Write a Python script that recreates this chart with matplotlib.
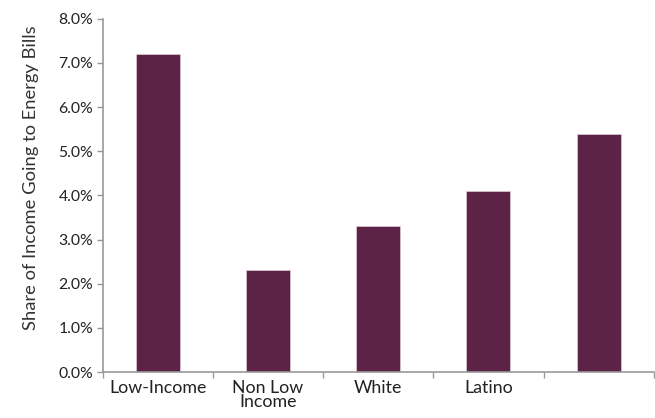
import matplotlib
matplotlib.use("Agg")
import matplotlib.pyplot as plt
from matplotlib.ticker import FixedLocator, NullFormatter

categories = ["Low-Income", "Non Low\nIncome", "White", "Latino", ""]
values = [7.2, 2.3, 3.3, 4.1, 5.4]
yticks = [0, 1, 2, 3, 4, 5, 6, 7, 8]
ytick_labels = ["0.0%", "1.0%", "2.0%", "3.0%", "4.0%", "5.0%", "6.0%", "7.0%", "8.0%"]
ylabel = "Share of Income Going to Energy Bills"

plt.rcParams['font.family'] = ['Lato', 'DejaVu Sans']

fig = plt.figure(figsize=(6.55, 4.18), dpi=100)
ax = fig.add_axes([0.157, 0.110, 0.841, 0.845])

x = list(range(len(categories)))
ax.bar(x, values, width=0.4, color="#5C2346", edgecolor="#E8DDE3", linewidth=0.4)

ax.set_xlim(-0.5, len(categories) - 0.5)
ax.set_ylim(0, 8)
ax.set_yticks(yticks)
ax.set_yticklabels(ytick_labels, fontsize=11.3, color="#222222")

ax.set_xticks(x)
ax.set_xticklabels(categories, fontsize=12.8, color="#222222", linespacing=0.85)
ax.tick_params(axis='x', which='major', length=0, pad=6)
ax.xaxis.set_minor_locator(FixedLocator([i - 0.5 for i in range(len(categories) + 1)]))
ax.xaxis.set_minor_formatter(NullFormatter())
ax.tick_params(axis='x', which='minor', length=4, color="#999999", width=1)
ax.tick_params(axis='y', length=4, color="#999999", width=1, pad=3)

for s in ["top", "right"]:
    ax.spines[s].set_visible(False)
for s in ["left", "bottom"]:
    ax.spines[s].set_color("#999999")
    ax.spines[s].set_linewidth(1.2)

ax.set_ylabel(ylabel, fontsize=13.2, color="#333333")
ax.yaxis.set_label_coords(-0.115, 0.55)

fig.savefig("out.png", dpi=100)
